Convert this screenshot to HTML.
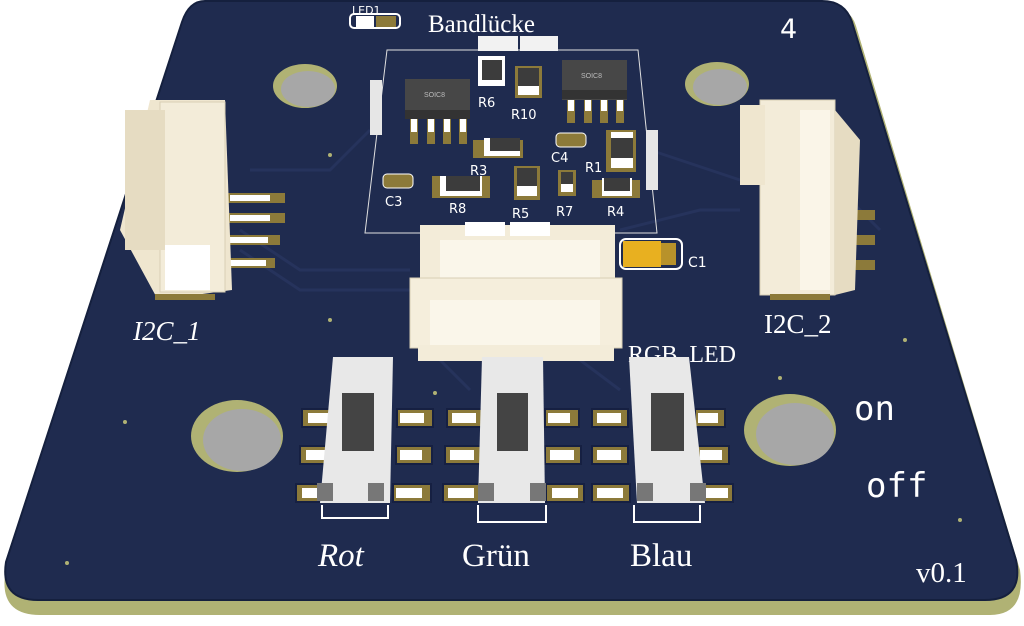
<!DOCTYPE html>
<html><head><meta charset="utf-8"><style>
html,body{margin:0;padding:0;background:#fff;width:1024px;height:626px;overflow:hidden}
svg{display:block}
.s{font-family:"Liberation Serif",serif;fill:#fff}
.m{font-family:"DejaVu Sans","Liberation Sans",sans-serif;fill:#fff}
.mono{font-family:"DejaVu Sans Mono","Liberation Mono",monospace;fill:#fff}
</style></head><body>
<svg width="1024" height="626" viewBox="0 0 1024 626" xmlns="http://www.w3.org/2000/svg">
<path d="M205,6 L825,6 Q850,6 856,26 L1020,570 Q1026,615 990,615 L40,615 Q0,615 5,575 L185,26 Q192,6 205,6 Z" fill="#b0b274"/>
<path d="M205,1 L822,1 Q845,1 852,22 L1016,560 Q1024,600 985,600 L38,600 Q0,600 6,562 L182,22 Q189,1 205,1 Z" fill="#1f2b4f" stroke="#15203e" stroke-width="2"/>
<g stroke="#26335c" stroke-width="3" fill="none">
<path d="M240,230 L300,270 L410,270"/><path d="M240,250 L300,290 L410,290"/>
<path d="M620,230 L700,210 L740,210"/><path d="M850,200 L880,230"/>
<path d="M440,360 L470,390"/><path d="M580,360 L620,390"/>
<path d="M370,130 L330,170 L250,170"/><path d="M650,150 L740,180"/>
</g>
<g>
<ellipse cx="305" cy="86" rx="32" ry="22" fill="#b0b274"/><ellipse cx="308" cy="89" rx="27" ry="18" fill="#a7a7a7"/>
<ellipse cx="717" cy="84" rx="32" ry="22" fill="#b0b274"/><ellipse cx="720" cy="87" rx="27" ry="18" fill="#a7a7a7"/>
<ellipse cx="237" cy="436" rx="46" ry="36" fill="#b0b274"/><ellipse cx="242" cy="440" rx="39" ry="31" fill="#a7a7a7"/>
<ellipse cx="790" cy="430" rx="46" ry="36" fill="#b0b274"/><ellipse cx="795" cy="434" rx="39" ry="31" fill="#a7a7a7"/>
</g>
<g fill="#b0b274"><circle cx="67" cy="563" r="2"/><circle cx="330" cy="320" r="2"/><circle cx="435" cy="393" r="2"/><circle cx="905" cy="340" r="2"/><circle cx="780" cy="378" r="2"/><circle cx="330" cy="155" r="2"/><circle cx="960" cy="520" r="2"/><circle cx="125" cy="422" r="2"/></g>
<path d="M387,50 L638,50 L657,233 L365,233 Z" fill="none" stroke="#e0e0e0" stroke-width="1"/>
<rect x="350" y="14" width="50" height="14" rx="4" fill="none" stroke="#fff" stroke-width="2"/>
<rect x="356" y="16" width="18" height="11" fill="#fff"/><rect x="376" y="16" width="20" height="11" fill="#8c7a3a"/>
<text x="352" y="14" class="m" font-size="11">LED1</text>
<text x="428" y="32" class="s" font-size="25">Bandlücke</text>
<text x="780" y="38" class="m" font-size="27">4</text>
<rect x="478" y="36" width="40" height="15" fill="#f2f2f2"/><rect x="520" y="36" width="38" height="15" fill="#f2f2f2"/>
<rect x="478" y="56" width="27" height="30" fill="#fff"/><rect x="482" y="60" width="20" height="20" fill="#3c3c3c"/>
<rect x="515" y="66" width="27" height="32" fill="#8c7a3a"/><rect x="518" y="68" width="21" height="18" fill="#3c3c3c"/><rect x="518" y="86" width="21" height="9" fill="#fff"/>
<text x="478" y="107" class="m" font-size="13">R6</text><text x="511" y="119" class="m" font-size="13">R10</text>
<g fill="#8c7a3a"><rect x="410" y="118" width="8" height="26"/><rect x="427" y="118" width="8" height="26"/><rect x="443" y="118" width="8" height="26"/><rect x="459" y="118" width="8" height="26"/></g>
<g fill="#fff"><rect x="411" y="118" width="6" height="14"/><rect x="428" y="118" width="6" height="14"/><rect x="444" y="118" width="6" height="14"/><rect x="460" y="118" width="6" height="14"/></g>
<rect x="405" y="79" width="65" height="40" fill="#474747"/><rect x="405" y="110" width="65" height="9" fill="#333"/>
<text x="424" y="97" font-family="Liberation Sans,sans-serif" font-size="7" fill="#bbb">SOIC8</text>
<g fill="#8c7a3a"><rect x="567" y="97" width="8" height="26"/><rect x="584" y="97" width="8" height="26"/><rect x="600" y="97" width="8" height="26"/><rect x="616" y="97" width="8" height="26"/></g>
<g fill="#fff"><rect x="568" y="97" width="6" height="14"/><rect x="585" y="97" width="6" height="14"/><rect x="601" y="97" width="6" height="14"/><rect x="617" y="97" width="6" height="14"/></g>
<rect x="562" y="60" width="65" height="40" fill="#474747"/><rect x="562" y="90" width="65" height="9" fill="#333"/>
<text x="581" y="78" font-family="Liberation Sans,sans-serif" font-size="7" fill="#bbb">SOIC8</text>
<rect x="473" y="140" width="50" height="18" fill="#8c7a3a"/><rect x="484" y="138" width="36" height="18" fill="#fff"/><rect x="490" y="138" width="30" height="13" fill="#3c3c3c"/>
<text x="470" y="175" class="m" font-size="13">R3</text>
<rect x="556" y="133" width="30" height="14" rx="4" fill="#8c7a3a" stroke="#fff"/><text x="551" y="162" class="m" font-size="13">C4</text>
<rect x="606" y="130" width="30" height="42" fill="#8c7a3a"/><rect x="611" y="132" width="22" height="36" fill="#fff"/><rect x="611" y="138" width="22" height="20" fill="#3c3c3c"/>
<text x="585" y="172" class="m" font-size="13">R1</text>
<rect x="383" y="174" width="30" height="14" rx="4" fill="#8c7a3a" stroke="#fff"/><text x="385" y="206" class="m" font-size="13">C3</text>
<rect x="432" y="176" width="58" height="22" fill="#8c7a3a"/><rect x="440" y="176" width="42" height="20" fill="#fff"/><rect x="446" y="176" width="34" height="15" fill="#3c3c3c"/>
<text x="449" y="213" class="m" font-size="13">R8</text>
<rect x="514" y="166" width="26" height="34" fill="#8c7a3a"/><rect x="517" y="168" width="20" height="18" fill="#3c3c3c"/><rect x="517" y="186" width="20" height="10" fill="#fff"/>
<text x="512" y="218" class="m" font-size="13">R5</text>
<rect x="558" y="170" width="18" height="26" fill="#8c7a3a"/><rect x="561" y="172" width="12" height="12" fill="#3c3c3c"/><rect x="561" y="184" width="12" height="8" fill="#fff"/>
<text x="556" y="216" class="m" font-size="13">R7</text>
<rect x="592" y="180" width="48" height="18" fill="#8c7a3a"/><rect x="602" y="178" width="30" height="18" fill="#fff"/><rect x="604" y="178" width="26" height="13" fill="#3c3c3c"/>
<text x="607" y="216" class="m" font-size="13">R4</text>
<rect x="370" y="80" width="12" height="55" fill="#e6e6e6"/><rect x="646" y="130" width="12" height="60" fill="#e6e6e6"/>
<g fill="#8c7a3a"><rect x="225" y="193" width="60" height="10"/><rect x="225" y="213" width="60" height="10"/><rect x="225" y="235" width="55" height="10"/><rect x="225" y="258" width="50" height="10"/></g>
<g fill="#fff"><rect x="230" y="195" width="40" height="6"/><rect x="230" y="215" width="40" height="6"/><rect x="230" y="237" width="38" height="6"/><rect x="230" y="260" width="36" height="6"/></g>
<path d="M150,100 L225,100 L232,290 L158,300 L120,230 Z" fill="#efe6cf"/>
<rect x="160" y="102" width="65" height="190" fill="#f3ecd9" stroke="#d8cfb5"/>
<rect x="165" y="245" width="45" height="45" fill="#fff"/>
<rect x="125" y="110" width="40" height="140" fill="#e6dcc2"/>
<rect x="155" y="294" width="60" height="6" fill="#8c7a3a"/>
<text x="133" y="340" class="s" font-size="27" font-style="italic">I2C_1</text>
<g fill="#8c7a3a"><rect x="850" y="210" width="25" height="10"/><rect x="850" y="235" width="25" height="10"/><rect x="850" y="260" width="25" height="10"/></g>
<rect x="760" y="100" width="75" height="195" fill="#f3ecd9" stroke="#d8cfb5"/>
<path d="M835,110 L860,140 L855,290 L835,295 Z" fill="#e6dcc2"/>
<rect x="740" y="105" width="25" height="80" fill="#efe6cf"/>
<rect x="800" y="110" width="30" height="180" fill="#faf5e8"/>
<rect x="770" y="294" width="60" height="6" fill="#8c7a3a"/>
<text x="764" y="333" class="s" font-size="27">I2C_2</text>
<rect x="620" y="239" width="62" height="30" rx="6" fill="none" stroke="#fff" stroke-width="2"/>
<rect x="623" y="241" width="38" height="26" fill="#e8b020"/><rect x="661" y="243" width="15" height="22" fill="#b8922a"/>
<text x="688" y="267" class="m" font-size="14">C1</text>
<rect x="420" y="225" width="195" height="55" fill="#f3ecd9"/>
<rect x="465" y="222" width="40" height="14" fill="#fff"/><rect x="510" y="222" width="40" height="14" fill="#fff"/>
<rect x="440" y="240" width="160" height="40" fill="#faf6ea"/>
<rect x="410" y="278" width="212" height="70" fill="#f5eedc" stroke="#d8cfb5"/>
<rect x="430" y="300" width="170" height="45" fill="#faf6ea"/>
<rect x="418" y="345" width="196" height="16" fill="#f3ecd9"/>
<text x="628" y="362" class="s" font-size="24">RGB_LED</text>
<g fill="#8c7a3a" stroke="#162042" stroke-width="2">
<rect x="302" y="409" width="34" height="18"/><rect x="300" y="446" width="34" height="18"/><rect x="296" y="484" width="36" height="18"/>
<rect x="397" y="409" width="36" height="18"/><rect x="396" y="446" width="36" height="18"/><rect x="393" y="484" width="38" height="18"/>
<rect x="447" y="409" width="36" height="18"/><rect x="445" y="446" width="36" height="18"/><rect x="443" y="484" width="38" height="18"/>
<rect x="545" y="409" width="34" height="18"/><rect x="545" y="446" width="36" height="18"/><rect x="546" y="484" width="38" height="18"/>
<rect x="592" y="409" width="36" height="18"/><rect x="592" y="446" width="36" height="18"/><rect x="592" y="484" width="38" height="18"/>
<rect x="695" y="409" width="30" height="18"/><rect x="697" y="446" width="32" height="18"/><rect x="697" y="484" width="36" height="18"/>
</g>
<g fill="#fff">
<rect x="308" y="413" width="22" height="10"/><rect x="306" y="450" width="22" height="10"/><rect x="302" y="488" width="24" height="10"/>
<rect x="400" y="413" width="24" height="10"/><rect x="400" y="450" width="22" height="10"/><rect x="396" y="488" width="26" height="10"/>
<rect x="452" y="413" width="24" height="10"/><rect x="450" y="450" width="24" height="10"/><rect x="448" y="488" width="26" height="10"/>
<rect x="548" y="413" width="22" height="10"/><rect x="550" y="450" width="24" height="10"/><rect x="552" y="488" width="26" height="10"/>
<rect x="597" y="413" width="24" height="10"/><rect x="597" y="450" width="24" height="10"/><rect x="597" y="488" width="26" height="10"/>
<rect x="698" y="413" width="20" height="10"/><rect x="700" y="450" width="22" height="10"/><rect x="702" y="488" width="26" height="10"/>
</g>
<g>
<path d="M333,357 L393,357 L390,503 L320,503 Z" fill="#e8e8e8"/>
<rect x="342" y="393" width="32" height="58" fill="#444"/>
<rect x="317" y="483" width="16" height="18" fill="#777"/><rect x="368" y="483" width="16" height="18" fill="#777"/>
<path d="M322,505 L322,518 L388,518 L388,505" fill="none" stroke="#fff" stroke-width="2"/>
<path d="M482,357 L543,357 L545,503 L478,503 Z" fill="#e8e8e8"/>
<rect x="497" y="393" width="31" height="58" fill="#444"/>
<rect x="478" y="483" width="16" height="18" fill="#777"/><rect x="530" y="483" width="16" height="18" fill="#777"/>
<path d="M478,505 L478,522 L546,522 L546,505" fill="none" stroke="#fff" stroke-width="2"/>
<path d="M629,357 L689,357 L705,503 L637,503 Z" fill="#e8e8e8"/>
<rect x="651" y="393" width="33" height="58" fill="#444"/>
<rect x="637" y="483" width="16" height="18" fill="#777"/><rect x="690" y="483" width="16" height="18" fill="#777"/>
<path d="M634,505 L634,522 L700,522 L700,505" fill="none" stroke="#fff" stroke-width="2"/>
</g>
<text x="318" y="566" class="s" font-size="33" font-style="italic">Rot</text>
<text x="462" y="566" class="s" font-size="33">Grün</text>
<text x="630" y="566" class="s" font-size="33">Blau</text>
<text x="854" y="420" class="mono" font-size="34">on</text>
<text x="866" y="497" class="mono" font-size="34">off</text>
<text x="916" y="582" class="s" font-size="29">v0.1</text>
</svg>
</body></html>
